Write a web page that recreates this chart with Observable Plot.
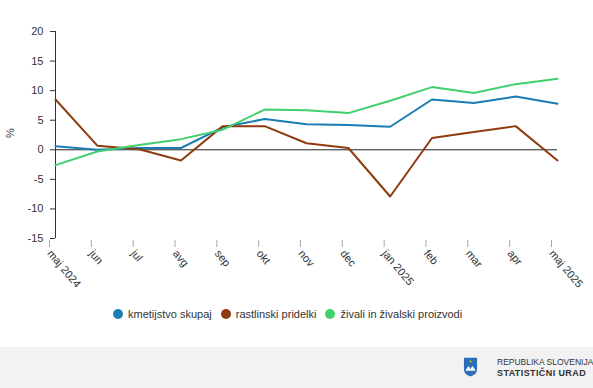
<!DOCTYPE html>
<html><head><meta charset="utf-8">
<script src="https://cdn.jsdelivr.net/npm/d3@7"></script>
<script src="https://cdn.jsdelivr.net/npm/@observablehq/plot@0.6"></script>
<style>
body{margin:0;background:#fff;font-family:"Liberation Sans",Arial,sans-serif;width:593px;height:388px;overflow:hidden;position:relative}
#legend{position:absolute;top:308px;left:113px;display:flex;gap:9px;font-size:11px;color:#333;white-space:nowrap}
#legend span{display:flex;align-items:center}
#legend i{display:inline-block;width:10px;height:10px;border-radius:50%;margin-right:5px}
#footer{position:absolute;top:347px;left:0;width:593px;height:41px;background:#f2f2f2}
#shield{position:absolute;left:463px;top:9px}
#ftext{position:absolute;left:497px;top:10px;line-height:11px;color:#333;white-space:nowrap}
</style></head><body>
<div id="chart"></div>
<div id="legend"></div>
<div id="footer"><svg id="shield" width="15" height="22" viewBox="0 0 16 22"><path d="M1 1h14v12c0 5-4 7-7 8-3-1-7-3-7-8z" fill="#2a6fb8"/><path d="M3 14l3-4 2 3 2-3 3 4v1H3z" fill="#fff"/><circle cx="8" cy="5" r="1" fill="#f5d000"/></svg><div id="ftext"><div style="font-size:8.5px">REPUBLIKA SLOVENIJA</div><div style="font-size:9px;font-weight:bold;letter-spacing:0.4px">STATISTIČNI URAD</div></div></div>
<script>
const months = ["maj 2024","jun","jul","avg","sep","okt","nov","dec","jan 2025","feb","mar","apr","maj 2025"];
const seriesNames = ["kmetijstvo skupaj","rastlinski pridelki","živali in živalski proizvodi"];
const colors = ["#1a7db3","#8f3a10","#41d06e"];
const skupaj = [0.6, 0.0, 0.3, 0.3, 3.8, 5.2, 4.3, 4.2, 3.9, 8.5, 7.9, 9.0, 7.8];
const rastlinski = [8.5, 0.7, 0.1, -1.8, 4.0, 4.0, 1.1, 0.3, -7.9, 2.0, 3.0, 4.0, -1.8];
const zivali = [-2.6, -0.3, 0.8, 1.8, 3.4, 6.8, 6.7, 6.2, 8.3, 10.6, 9.6, 11.1, 12.0];
const yTicks = [-15,-10,-5,0,5,10,15,20];

const vals = [skupaj, rastlinski, zivali];
const data = [];
seriesNames.forEach((s,i)=>months.forEach((m,j)=>data.push({s, m, v: vals[i][j]})));

const chart = Plot.plot({
  width: 593, height: 300,
  marginLeft: 55, marginRight: 36, marginTop: 31, marginBottom: 62,
  style: {fontFamily: '"Liberation Sans",Arial,sans-serif', fontSize: "11px", color: "#333"},
  x: {type: "point", domain: months, padding: 0, round: false, label: null},
  y: {domain: [-15, 20], ticks: yTicks, label: null},
  color: {domain: seriesNames, range: colors},
  marks: [
    Plot.axisY({ticks: yTicks, tickSize: 5, tickPadding: 7, fontSize: 11, tickFormat: d => String(d), stroke: "#333"}),
    Plot.ruleX([months[0]], {y1: -15, y2: 20, stroke: "#333"}),
    Plot.axisX({tickSize: 7, tickRotate: 50, tickPadding: 4, fontSize: 11, stroke: "#aaa", fill: "#333", dx: -6, dy: 2}),
    Plot.ruleY([0], {stroke: "#222", strokeWidth: 1}),
    Plot.line(data, {x: "m", y: "v", z: "s", stroke: "s", strokeWidth: 2})
  ]
});
document.getElementById("chart").appendChild(chart);
d3.select(chart).append("text").attr("transform","translate(14,133) rotate(-90)").attr("text-anchor","middle").attr("font-size","11px").attr("fill","#333").text("%");

const lg = document.getElementById("legend");
seriesNames.forEach((s,i)=>{const sp=document.createElement("span");sp.innerHTML=`<i style="background:${colors[i]}"></i>${s}`;lg.appendChild(sp);});
</script>
</body></html>
